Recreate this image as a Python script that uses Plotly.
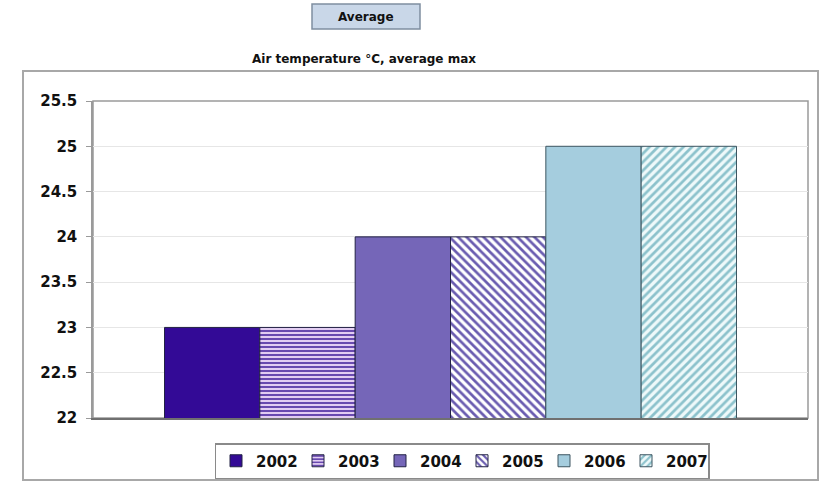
import plotly.graph_objects as go

# Average of the yearly maximum air temperature, one bar per year
years = ["2002", "2003", "2004", "2005", "2006", "2007"]
values = [23.0, 23.0, 24.0, 24.0, 25.0, 25.0]
category = ["Average"]

y_ticks = [22, 22.5, 23, 23.5, 24, 24.5, 25, 25.5]

fills = ["#330a96", "#e2cdf2", "#7566b8", "#ffffff", "#a5cdde", "#eef9fa"]
pattern_shapes = ["", "-", "", "\\", "", "/"]
pattern_fg = ["#330a96", "#5a3aa8", "#7566b8", "#6a5cb0", "#a5cdde", "#8cc2cc"]
pattern_size = [6, 4, 6, 6, 6, 6]
outline = ["#222244", "#222244", "#222244", "#222244", "#3d5560", "#3d5560"]

W, H = 825, 481
L, R, T, B = 93, 17, 101, 63
PW, PH = W - L - R, H - T - B


def px_x(p):
    return (p - L) / PW


def px_y(p):
    return (H - B - p) / PH


FONT = "DejaVu Sans"

fig = go.Figure()
for i, yr in enumerate(years):
    fig.add_trace(go.Bar(
        x=category,
        y=[values[i]],
        name=yr,
        marker=dict(
            color=fills[i],
            line=dict(color=outline[i], width=1),
            pattern=dict(
                shape=pattern_shapes[i],
                fgcolor=pattern_fg[i],
                bgcolor=fills[i],
                fillmode="replace",
                size=pattern_size[i],
                solidity=0.45,
            ),
        ),
    ))

shapes = [
    # outer chart frame
    dict(type="rect", xref="paper", yref="paper",
         x0=px_x(23), x1=px_x(818), y0=px_y(480), y1=px_y(71),
         line=dict(color="#a8a8a8", width=2), fillcolor="rgba(0,0,0,0)", layer="below"),
    # plot area frame
    dict(type="rect", xref="paper", yref="paper",
         x0=0, x1=1, y0=0, y1=1,
         line=dict(color="#9a9a9a", width=1.5), fillcolor="rgba(0,0,0,0)", layer="below"),
    # "Average" button
    dict(type="rect", xref="paper", yref="paper",
         x0=px_x(312), x1=px_x(420), y0=px_y(29), y1=px_y(4),
         line=dict(color="#7f8ea0", width=1.5), fillcolor="#c9d7e8"),
]

annotations = [
    dict(text="<b>Average</b>", xref="paper", yref="paper",
         x=px_x(366), y=px_y(17), showarrow=False,
         xanchor="center", yanchor="middle",
         font=dict(family=FONT, size=12, color="#111111")),
    dict(text="<b>Air temperature °C, average max</b>", xref="paper", yref="paper",
         x=px_x(364), y=px_y(59), showarrow=False,
         xanchor="center", yanchor="middle",
         font=dict(family=FONT, size=12, color="#111111")),
]

fig.update_layout(
    width=W, height=H,
    margin=dict(l=L, r=R, t=T, b=B, autoexpand=False),
    paper_bgcolor="white",
    plot_bgcolor="white",
    barmode="group",
    bargap=0.2,
    bargroupgap=0,
    shapes=shapes,
    annotations=annotations,
    font=dict(family=FONT, color="#111111"),
    legend=dict(
        orientation="h",
        xanchor="center", x=px_x(462),
        yanchor="top", y=px_y(443),
        bordercolor="#8a8a8a", borderwidth=1.5,
        bgcolor="white",
        font=dict(family=FONT, size=15, color="#111111", weight="bold"),
        entrywidth=37,
        itemwidth=30,
        traceorder="normal",
    ),
    xaxis=dict(
        showticklabels=False, showgrid=False, zeroline=False,
        showline=True, linecolor="#707070", linewidth=2,
        ticks="",
    ),
    yaxis=dict(
        range=[22, 25.5],
        tickvals=y_ticks,
        ticktext=[f"{v:g}" for v in y_ticks],
        showgrid=True, gridcolor="#e6e6e6", gridwidth=1,
        zeroline=False,
        showline=True, linecolor="#9a9a9a", linewidth=1.5,
        ticks="outside", ticklen=5, tickcolor="#9a9a9a",
        ticklabelstandoff=6,
        tickfont=dict(family=FONT, size=15, color="#111111", weight="bold"),
    ),
)

fig.write_html("out.html")
